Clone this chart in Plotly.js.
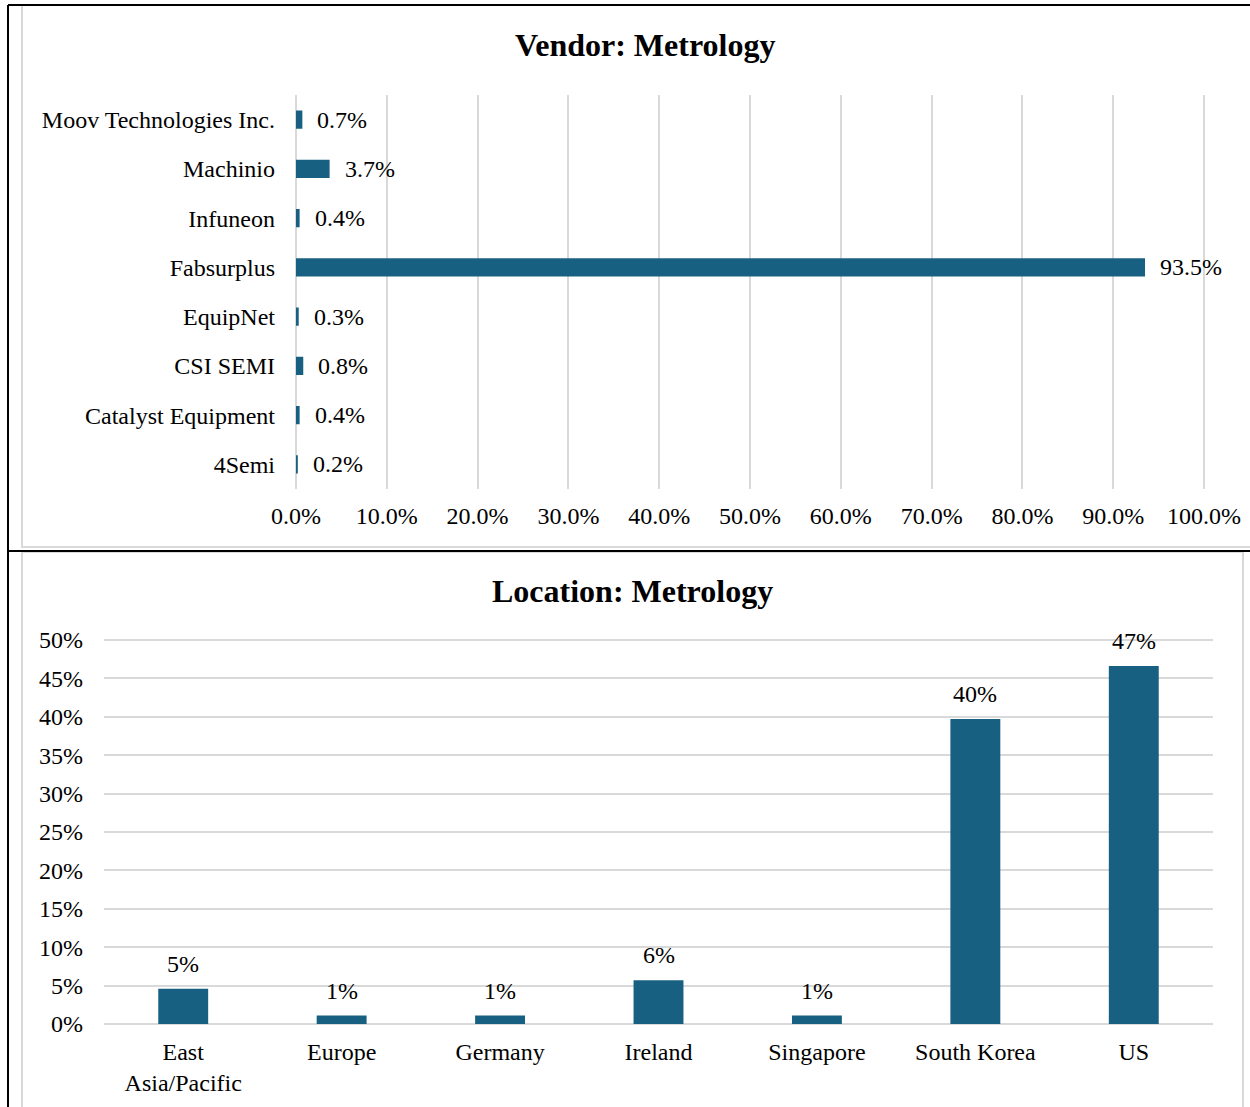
<!DOCTYPE html>
<html>
<head>
<meta charset="utf-8">
<script src="https://cdn.plot.ly/plotly-3.0.1.min.js"></script>
<style>html,body{margin:0;padding:0;background:#fff;}#chart{width:1250px;height:1107px;}</style>
</head>
<body>
<div id="chart"></div>
<script>
// ---- data ----
const vendorNames = ["4Semi", "Catalyst Equipment", "CSI SEMI", "EquipNet", "Fabsurplus", "Infuneon", "Machinio", "Moov Technologies Inc."];
const vendorShares = [0.2, 0.4, 0.8, 0.3, 93.5, 0.4, 3.7, 0.7];
const locationNames = ["East<br>Asia/Pacific", "Europe", "Germany", "Ireland", "Singapore", "South Korea", "US"];
const locationShares = [4.6, 1.1, 1.1, 5.7, 1.1, 39.7, 46.6];
const vendorTicks = [0, 10, 20, 30, 40, 50, 60, 70, 80, 90, 100];
const locationTicks = [0, 5, 10, 15, 20, 25, 30, 35, 40, 45, 50];

const W = 1250, H = 1107;
const FX = x => x / W;
const FY = y => 1 - y / H;
const FONT = "Liberation Serif, Times New Roman, serif";
const BAR = "#186081";
const GRID = "#d9d9d9";
const FS = 24;

const traces = [
  {type: "bar", orientation: "h", x: vendorShares, y: vendorNames, xaxis: "x", yaxis: "y",
   marker: {color: BAR}, width: 0.37, hoverinfo: "none"},
  {type: "bar", x: locationNames, y: locationShares, xaxis: "x2", yaxis: "y2",
   marker: {color: BAR}, width: 0.315, hoverinfo: "none"}
];

const annotations = [];
vendorNames.forEach((n, i) => annotations.push({
  x: vendorShares[i], y: n, xref: "x", yref: "y", text: vendorShares[i].toFixed(1) + "%",
  showarrow: false, xanchor: "left", yanchor: "middle", xshift: 13,
  font: {family: FONT, size: FS, color: "#000"}
}));
locationNames.forEach((n, i) => annotations.push({
  x: n, y: locationShares[i], xref: "x2", yref: "y2", text: Math.round(locationShares[i]) + "%",
  showarrow: false, xanchor: "center", yanchor: "middle", yshift: 25,
  font: {family: FONT, size: FS, color: "#000"}
}));
annotations.push({x: FX(645), y: FY(45), xref: "paper", yref: "paper", text: "<b>Vendor: Metrology</b>",
  showarrow: false, xanchor: "center", yanchor: "middle", font: {family: FONT, size: 32, color: "#000"}});
annotations.push({x: FX(632), y: FY(591), xref: "paper", yref: "paper", text: "<b>Location: Metrology</b>",
  showarrow: false, xanchor: "center", yanchor: "middle", font: {family: FONT, size: 32, color: "#000"}});

const shapes = [
  {type: "rect", xref: "paper", yref: "paper", x0: FX(22), x1: FX(1252), y0: FY(547), y1: FY(5), line: {color: GRID, width: 2}},
  {type: "rect", xref: "paper", yref: "paper", x0: FX(22), x1: FX(1243), y0: FY(1110), y1: FY(552), line: {color: GRID, width: 2}},
  {type: "line", xref: "paper", yref: "paper", x0: FX(8), x1: FX(8), y0: FY(5), y1: FY(1110), line: {color: "#000", width: 2}},
  {type: "line", xref: "paper", yref: "paper", x0: FX(8), x1: FX(1252), y0: FY(5), y1: FY(5), line: {color: "#000", width: 2}},
  {type: "line", xref: "paper", yref: "paper", x0: FX(8), x1: FX(1252), y0: FY(551), y1: FY(551), line: {color: "#000", width: 2}}
];

const tickFont = {family: FONT, size: FS, color: "#000"};
const layout = {
  width: W, height: H,
  margin: {l: 0, r: 0, t: 0, b: 0},
  paper_bgcolor: "#fff", plot_bgcolor: "#fff",
  showlegend: false,
  font: {family: FONT, color: "#000"},
  xaxis: {domain: [FX(296), FX(1205.4)], range: [0, 100.15], tickvals: vendorTicks,
    ticktext: vendorTicks.map(v => v.toFixed(1) + "%"), showgrid: true, gridcolor: GRID, gridwidth: 2,
    zeroline: true, zerolinecolor: GRID, zerolinewidth: 2, showline: false, ticks: "",
    tickfont: tickFont, ticklabelstandoff: 10, anchor: "y", fixedrange: true},
  yaxis: {domain: [FY(489), FY(95)], type: "category", categoryorder: "array", categoryarray: vendorNames,
    showgrid: false, zeroline: false, showline: false, ticks: "", tickfont: tickFont,
    ticklabelstandoff: 20, anchor: "x", fixedrange: true},
  xaxis2: {domain: [FX(104), FX(1213)], type: "category", categoryorder: "array", categoryarray: locationNames,
    showgrid: false, zeroline: false, showline: false, ticks: "", tickfont: tickFont,
    ticklabelstandoff: 11, anchor: "y2", fixedrange: true},
  yaxis2: {domain: [FY(1024), FY(637.7)], range: [0, 50.3], tickvals: locationTicks,
    ticktext: locationTicks.map(v => v + "%"),
    showgrid: true, gridcolor: GRID, gridwidth: 2, zeroline: true, zerolinecolor: GRID, zerolinewidth: 2,
    showline: false, ticks: "", tickfont: tickFont, ticklabelstandoff: 20, anchor: "x2", fixedrange: true},
  annotations: annotations,
  shapes: shapes
};

Plotly.newPlot("chart", traces, layout, {displayModeBar: false, staticPlot: true});
</script>
</body>
</html>
